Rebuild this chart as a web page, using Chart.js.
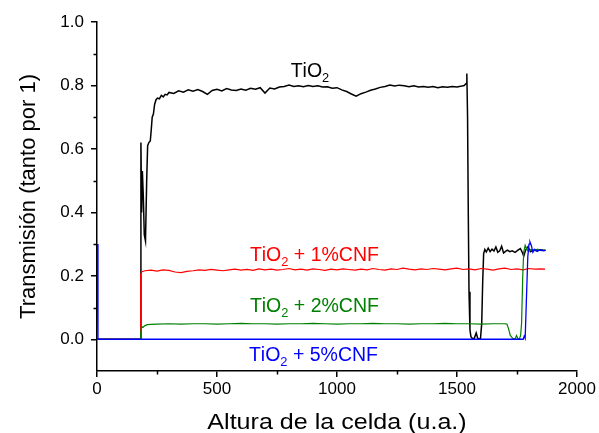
<!DOCTYPE html>
<html>
<head>
<meta charset="utf-8">
<script src="https://cdn.jsdelivr.net/npm/chart.js@4"></script>
<style>
  html, body { margin: 0; padding: 0; background: #fff; }
  #wrap { width: 599px; height: 433px; }
</style>
</head>
<body>
<div id="wrap"><canvas id="chart" width="599" height="433"></canvas></div>
<script>
/* Transmission vs cell height, TiO2 with CNF additions */

// ── Series names (₂ drawn as subscript) ───────────────────────────
const SERIES_NAMES = ["TiO₂", "TiO₂ + 1%CNF", "TiO₂ + 2%CNF", "TiO₂ + 5%CNF"];
const SERIES_COLORS = ["#000000", "#ff0000", "#008000", "#0000ff"];

// label anchors in data units (left edge, baseline)
const LABEL_X = [807, 637, 637, 633];
const LABEL_Y = [0.827, 0.246, 0.086, -0.070];

// axis ticks
const X_TICKS = [0, 500, 1000, 1500, 2000];
const X_MINOR = [250, 750, 1250, 1750];
const Y_TICKS = [0.0, 0.2, 0.4, 0.6, 0.8, 1.0];
const Y_MINOR = [0.1, 0.3, 0.5, 0.7, 0.9];

// ── TiO2 ──────────────────────────────────────────────────────────
const tio2X = [0, 180, 183, 186, 189, 193, 197, 202, 207, 211, 216, 222, 226, 230, 235, 240,
  246, 252, 260, 268, 276, 284, 292, 300,
  320, 340, 360, 380, 400, 420, 440, 460, 480, 500, 520, 540, 560, 580, 600, 620, 640, 660,
  680, 700, 720, 740, 760, 780, 800, 820, 840, 860, 880, 900, 920, 940, 960, 980, 1000,
  1020, 1040, 1060, 1080, 1100, 1120, 1140, 1160, 1180, 1200, 1220, 1240, 1260, 1280,
  1300, 1320, 1340, 1360, 1380, 1400, 1420, 1440, 1460, 1480, 1500, 1520,
  1530, 1538, 1541, 1544, 1547, 1550, 1554, 1558, 1565, 1572, 1580, 1586, 1592, 1598,
  1603, 1607, 1611, 1616, 1622, 1630, 1638, 1646, 1654, 1662, 1670, 1678, 1686, 1694,
  1702, 1710, 1720, 1730, 1742, 1754, 1764, 1772, 1778, 1786, 1796, 1806, 1818, 1832,
  1848, 1868];
const tio2Y = [0, 0, 0.62, 0.40, 0.53, 0.45, 0.33, 0.31, 0.50, 0.61, 0.62, 0.625, 0.66, 0.70, 0.71, 0.74,
  0.755, 0.760, 0.758, 0.769, 0.764, 0.772, 0.770, 0.778,
  0.775, 0.783, 0.779, 0.786, 0.782, 0.787, 0.781, 0.772, 0.784, 0.788, 0.783, 0.790, 0.786, 0.784, 0.789, 0.785, 0.791, 0.788,
  0.793, 0.776, 0.792, 0.789, 0.795, 0.797, 0.801, 0.797, 0.799, 0.796, 0.800, 0.797, 0.799, 0.795, 0.796, 0.791, 0.793,
  0.786, 0.781, 0.773, 0.766, 0.774, 0.779, 0.785, 0.789, 0.794, 0.797, 0.801, 0.798, 0.801, 0.799,
  0.796, 0.799, 0.795, 0.797, 0.794, 0.797, 0.793, 0.796, 0.794, 0.797, 0.795, 0.798,
  0.800, 0.806, 0.838, 0.700, 0.400, 0.150, 0.030, 0.008, 0.002, 0.003, 0.020, 0.004, 0.001, 0.003,
  0.050, 0.180, 0.270, 0.283, 0.275, 0.287, 0.276, 0.284, 0.278, 0.291, 0.274, 0.279, 0.293, 0.272,
  0.277, 0.281, 0.276, 0.279, 0.274, 0.281, 0.286, 0.274, 0.262, 0.281, 0.292, 0.276, 0.281, 0.279,
  0.282, 0.280];

// ── TiO2 + 1%CNF ──────────────────────────────────────────────────
const cnf1X = [0, 180, 182, 187, 200, 225, 250, 275, 300, 325, 350, 375, 400, 425, 450, 475,
  500, 525, 550, 575, 600, 625, 650, 675, 700, 725, 750, 775, 800, 825, 850, 875, 900,
  925, 950, 975, 1000, 1025, 1050, 1075, 1100, 1125, 1150, 1175, 1200, 1225, 1250, 1275,
  1300, 1325, 1350, 1375, 1400, 1425, 1450, 1475, 1500, 1525, 1550, 1575, 1600, 1625,
  1650, 1675, 1700, 1725, 1750, 1775, 1800, 1825, 1850, 1867];
const cnf1Y = [0, 0, 0.205, 0.213, 0.216, 0.218, 0.215, 0.219, 0.217, 0.212, 0.210, 0.214, 0.216, 0.219, 0.217, 0.220,
  0.218, 0.216, 0.219, 0.221, 0.218, 0.220, 0.217, 0.222, 0.219, 0.221, 0.218, 0.220, 0.223, 0.219, 0.221, 0.218, 0.222,
  0.220, 0.217, 0.221, 0.219, 0.222, 0.220, 0.218, 0.221, 0.219, 0.223, 0.220, 0.218, 0.222, 0.220, 0.224,
  0.221, 0.219, 0.222, 0.220, 0.223, 0.221, 0.219, 0.222, 0.224, 0.220, 0.222, 0.219, 0.223, 0.221,
  0.218, 0.222, 0.224, 0.220, 0.222, 0.219, 0.223, 0.221, 0.222, 0.221];

// ── TiO2 + 2%CNF ──────────────────────────────────────────────────
const cnf2X = [0, 180, 182, 186, 192, 200, 210, 225, 250, 300, 350, 400, 450, 500, 550, 600,
  650, 700, 750, 800, 850, 900, 950, 1000, 1050, 1100, 1150, 1200, 1250, 1300, 1350, 1400,
  1450, 1500, 1550, 1600, 1650, 1700, 1708, 1714, 1722, 1732, 1742, 1748, 1754, 1760, 1765,
  1769, 1774, 1778, 1784, 1790, 1798, 1808, 1820, 1835, 1850, 1867];
const cnf2Y = [0, 0, 0.020, 0.040, 0.038, 0.043, 0.046, 0.047, 0.048, 0.049, 0.048, 0.049, 0.049, 0.048, 0.049, 0.050,
  0.049, 0.049, 0.048, 0.049, 0.049, 0.050, 0.049, 0.048, 0.049, 0.049, 0.050, 0.049, 0.049, 0.048, 0.049, 0.049,
  0.050, 0.049, 0.049, 0.048, 0.049, 0.049, 0.048, 0.035, 0.012, 0.003, 0.001, 0.012, 0.002, 0.001, 0.012,
  0.050, 0.200, 0.275, 0.296, 0.285, 0.276, 0.283, 0.279, 0.284, 0.279, 0.281];

// ── TiO2 + 5%CNF ──────────────────────────────────────────────────
const cnf5X = [0, 4, 1776, 1780, 1784, 1789, 1795, 1800, 1804, 1810, 1816, 1824, 1834, 1846, 1860, 1870];
const cnf5Y = [0.30, 0, 0, 0.010, 0.003, 0.120, 0.260, 0.300, 0.307, 0.295, 0.274, 0.284, 0.277, 0.282, 0.279, 0.281];

// ── Helpers ───────────────────────────────────────────────────────
const FONT = '"Liberation Sans", Arial, Helvetica, sans-serif';

function pts(xs, ys) {
  return xs.map((x, i) => ({ x, y: ys[i] }));
}

// draws text where "₂" becomes a lowered, smaller "2"
function drawChem(ctx, text, x, y, size) {
  let cx = x;
  for (const ch of text) {
    if (ch === "₂") {
      ctx.font = `${size * 0.66}px ${FONT}`;
      ctx.fillText("2", cx, y + size * 0.24);
      cx += ctx.measureText("2").width;
    } else {
      ctx.font = `${size}px ${FONT}`;
      ctx.fillText(ch, cx, y);
      cx += ctx.measureText(ch).width;
    }
  }
}

// ── Extra drawing: minor ticks, axis titles, series labels ────────
const decorations = {
  id: "decorations",
  afterDraw(chart) {
    const { ctx, chartArea: a, scales: { x, y } } = chart;
    ctx.save();

    // minor ticks
    ctx.strokeStyle = "#000";
    ctx.lineWidth = 1.5;
    ctx.beginPath();
    X_MINOR.forEach((v) => {
      const px = Math.round(x.getPixelForValue(v)) + 0.5;
      ctx.moveTo(px, a.bottom);
      ctx.lineTo(px, a.bottom + 3.5);
    });
    Y_MINOR.forEach((v) => {
      const py = Math.round(y.getPixelForValue(v)) + 0.5;
      ctx.moveTo(a.left, py);
      ctx.lineTo(a.left - 3.5, py);
    });
    ctx.stroke();

    // axis titles
    ctx.fillStyle = "#000";
    ctx.textBaseline = "alphabetic";
    ctx.textAlign = "center";
    ctx.font = `22px ${FONT}`;
    ctx.save();
    ctx.translate((a.left + a.right) / 2, 429);
    ctx.scale(1.14, 1);
    ctx.fillText("Altura de la celda (u.a.)", 0, 0);
    ctx.restore();

    ctx.save();
    ctx.translate(35, (a.top + a.bottom) / 2);
    ctx.rotate(-Math.PI / 2);
    ctx.fillText("Transmisión (tanto por 1)", 0, 0);
    ctx.restore();

    // series labels
    ctx.textAlign = "left";
    SERIES_NAMES.forEach((name, i) => {
      ctx.fillStyle = SERIES_COLORS[i];
      drawChem(ctx, name, x.getPixelForValue(LABEL_X[i]), y.getPixelForValue(LABEL_Y[i]), 19.5);
    });

    ctx.restore();
  },
};

// ── Chart ─────────────────────────────────────────────────────────
const seriesData = [pts(tio2X, tio2Y), pts(cnf1X, cnf1Y), pts(cnf2X, cnf2Y), pts(cnf5X, cnf5Y)];
const widths = [1.5, 1.2, 1.2, 1.3];

new Chart(document.getElementById("chart"), {
  type: "line",
  data: {
    datasets: seriesData.map((d, i) => ({
      label: SERIES_NAMES[i],
      data: d,
      borderColor: SERIES_COLORS[i],
      borderWidth: widths[i],
      pointRadius: 0,
      tension: 0,
      fill: false,
      order: 4 - i,
    })),
  },
  options: {
    responsive: false,
    animation: false,
    events: [],
    layout: { padding: { left: 0, right: 22, top: 22, bottom: 0 } },
    scales: {
      x: {
        type: "linear",
        min: 0,
        max: 2000,
        afterBuildTicks: (s) => { s.ticks = X_TICKS.map((v) => ({ value: v })); },
        afterFit: (s) => { s.height = 62; },
        ticks: {
          color: "#000",
          font: { family: FONT, size: 17 },
          padding: 2,
          maxRotation: 0,
          callback: (v) => String(v),
        },
        grid: { drawOnChartArea: false, color: "#000", lineWidth: 1.5, tickLength: 6 },
        border: { color: "#000", width: 1.5 },
      },
      y: {
        min: -0.1,
        max: 1.0,
        afterBuildTicks: (s) => { s.ticks = Y_TICKS.map((v) => ({ value: v })); },
        afterFit: (s) => { s.width = 97; },
        ticks: {
          color: "#000",
          font: { family: FONT, size: 17 },
          padding: 7,
          callback: (v) => v.toFixed(1),
        },
        grid: { drawOnChartArea: false, color: "#000", lineWidth: 1.5, tickLength: 6 },
        border: { color: "#000", width: 1.5 },
      },
    },
    plugins: { legend: { display: false }, tooltip: { enabled: false } },
  },
  plugins: [decorations],
});
</script>
</body>
</html>
